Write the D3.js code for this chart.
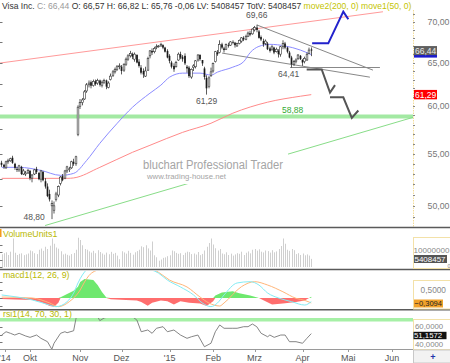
<!DOCTYPE html>
<html><head><meta charset="utf-8">
<script src="https://cdn.jsdelivr.net/npm/d3@7"></script>
<style>body{margin:0;background:#fff}svg{display:block}text{font-family:"Liberation Sans",Arial,sans-serif}</style>
</head><body><svg id="c" width="450" height="363"></svg>
<script>
// ---------- categories ----------
const startDate = "2014-09-12", endDate = "2015-04-08";
const holidays = ["2014-11-27","2014-12-25","2015-01-01","2015-01-19","2015-02-16","2015-04-03"];
const dates = (() => { const out = []; const fmt = d3.utcFormat("%Y-%m-%d");
  for (let d = new Date(startDate + "T00:00:00Z"); fmt(d) <= endDate; d = new Date(d.getTime() + 864e5)) {
    const wd = d.getUTCDay(); if (wd === 0 || wd === 6 || holidays.includes(fmt(d))) continue; out.push(fmt(d)); }
  return out; })();

// ---------- OHLC (split adjusted) ----------
const opens = [54.1,53.9,53.6,54.2,54.3,54.6,54.0,53.5,53.4,53.7,53.0,53.0,53.1,
53.3,52.6,53.0,53.5,53.1,52.5,53.2,52.3,51.8,51.1,50.0,49.6,50.6,51.0,52.1,52.8,52.6,53.3,53.5,53.6,54.2,54.0,57.0,
60.0,60.4,60.8,61.7,62.4,62.7,62.3,62.8,62.6,62.9,62.3,62.7,62.9,62.1,63.0,63.5,63.9,64.2,64.5,
64.5,64.1,64.8,65.4,65.8,66.0,65.4,65.9,65.1,64.4,64.0,63.4,64.1,65.8,66.4,66.3,66.8,66.9,67.0,67.1,66.8,66.4,
65.8,65.0,64.6,64.5,65.3,66.0,65.7,65.8,64.5,64.4,63.3,64.4,64.5,65.3,65.9,65.3,64.3,63.2,62.2,63.5,
64.0,65.1,66.2,66.2,67.2,66.7,66.6,67.1,67.1,67.5,67.4,67.0,67.3,67.6,68.0,67.8,68.2,68.6,68.5,
69.0,69.3,68.8,68.1,67.6,67.3,67.3,66.7,66.6,66.8,66.3,66.4,66.0,66.9,67.3,66.8,66.2,65.6,64.8,65.1,65.5,65.8,
65.3,65.1,65.3,66.1,66.57];
const highs = [54.3,54.0,54.3,54.5,54.6,54.8,54.1,53.7,53.9,53.8,53.5,53.3,53.5,
53.4,53.0,53.5,53.7,53.2,53.4,53.3,52.6,52.1,51.5,50.5,50.4,51.3,51.9,52.8,53.0,53.4,53.8,53.7,54.3,54.5,54.8,60.1,
60.8,60.9,61.8,62.6,62.9,62.9,63.0,63.0,63.1,63.0,62.9,63.1,63.0,62.8,63.7,64.1,64.4,64.7,64.9,
64.7,64.9,65.6,66.0,66.4,66.2,66.2,66.0,65.4,64.7,64.3,64.5,65.7,66.5,66.7,66.9,67.2,67.1,67.4,67.2,66.9,66.6,
66.0,65.2,64.9,65.2,66.2,66.3,65.9,66.1,64.7,64.6,64.3,64.8,65.3,66.0,66.0,65.3,64.5,63.5,63.4,64.4,
65.0,66.4,66.5,67.7,67.4,66.9,67.3,67.4,67.6,67.7,67.5,67.4,67.8,68.1,68.2,68.4,68.8,68.9,69.2,
69.5,69.66,69.0,68.3,67.9,67.8,67.5,66.9,67.1,66.9,66.8,66.6,67.0,67.7,67.5,66.9,66.4,65.8,65.3,65.5,66.0,65.9,
65.4,65.7,66.2,66.8,66.82];
const lows = [53.7,53.5,53.5,54.0,54.2,54.0,53.4,53.2,53.2,52.9,52.9,52.8,53.0,
52.4,52.2,52.9,53.0,52.4,52.2,52.3,51.6,50.8,50.4,48.8,49.3,50.4,50.8,51.9,52.3,52.5,53.1,53.2,53.5,53.8,53.8,56.8,
59.7,60.1,60.7,61.5,62.1,62.0,62.2,62.3,62.4,62.2,62.1,62.5,61.9,62.0,62.9,63.3,63.7,64.0,64.2,
63.6,63.9,64.6,65.2,65.6,65.4,65.1,64.9,64.4,63.6,63.2,63.3,64.0,65.5,65.9,66.1,66.6,66.8,66.9,66.6,66.2,65.5,
64.9,64.3,63.9,64.4,65.2,65.4,65.1,64.7,63.8,63.2,63.1,64.0,64.3,65.1,65.2,64.6,63.0,61.29,62.0,63.3,
63.8,65.0,65.8,66.1,66.6,66.2,66.5,66.8,67.0,67.2,66.8,66.9,67.2,67.4,67.6,67.7,68.1,68.2,68.4,
68.8,68.7,67.9,67.6,66.9,67.1,66.5,66.2,66.4,66.0,66.2,65.6,65.7,66.6,66.6,66.1,65.5,64.41,64.6,64.9,65.3,65.3,
64.6,64.9,65.2,66.0,65.76];
const closes = [53.9,53.7,54.2,54.3,54.5,54.1,53.6,53.4,53.8,53.0,53.3,53.1,53.35,
52.6,52.9,53.4,53.2,52.5,53.3,52.4,51.8,50.9,50.6,50.2,50.0,51.1,51.8,52.7,52.4,53.3,53.7,53.5,54.2,54.0,54.7,59.9,
60.4,60.7,61.6,62.4,62.6,62.3,62.8,62.5,62.9,62.4,62.7,62.9,62.2,62.6,63.4,63.9,64.2,64.5,64.6,
64.0,64.8,65.4,65.8,66.1,65.7,66.0,65.0,64.6,63.8,63.6,64.0,65.5,66.4,66.2,66.7,66.9,67.0,67.2,66.8,66.3,65.6,
65.2,64.5,64.2,65.0,66.0,65.6,65.4,64.9,64.3,63.4,64.2,64.6,65.2,65.9,65.4,64.9,63.3,62.0,63.2,63.9,
64.9,66.3,66.0,67.2,66.8,66.5,67.2,67.0,67.5,67.4,67.1,67.3,67.7,68.0,67.8,68.2,68.6,68.4,69.1,
69.3,69.0,68.0,67.8,67.2,67.6,66.6,66.4,66.9,66.2,66.6,66.0,66.9,67.3,66.8,66.3,65.6,64.8,65.1,65.3,65.9,65.4,
65.0,65.5,66.0,66.5,66.44];
// volume, millions
const volumes = [8.5,9.2,9.8,8.0,10.2,19.0,9.5,8.0,8.8,9.1,7.9,8.4,9.0,
11.0,10.5,9.2,8.6,11.5,12.3,10.8,13.5,12.0,14.2,19.0,15.5,13.0,12.2,10.5,8.4,8.9,8.1,7.6,8.6,9.3,11.5,19.5,
18.0,14.5,12.0,11.5,10.4,9.6,10.8,9.2,11.2,10.0,9.0,8.2,9.6,8.5,10.1,8.8,9.4,7.6,5.2,
10.5,9.7,8.9,10.8,9.4,8.2,9.8,10.6,11.5,13.8,13.2,14.5,12.4,11.0,17.0,7.8,6.5,4.2,5.0,6.1,6.4,7.2,
7.8,11.0,10.5,9.4,8.8,9.2,8.0,9.5,10.2,9.9,8.6,9.0,8.3,10.0,7.9,8.7,11.0,13.5,16.0,19.0,
15.0,12.5,11.0,12.0,9.0,8.5,9.8,8.0,8.9,7.6,8.4,9.2,8.8,10.2,8.0,9.5,10.4,9.1,11.5,
12.0,10.9,11.8,10.2,9.7,11.0,10.6,9.6,11.2,9.8,10.4,12.0,14.0,19.0,15.5,11.5,10.8,12.0,11.2,8.6,9.2,
8.0,9.0,7.8,8.4,7.6,5.408457];

// ---------- moving averages (read at sample days) ----------
const ma50Pos = [0,8,18,27,33,39,45,53,60,68,73,77,83,91,96,99,106,111,114,118,123,130,137,142];
const ma50    = [53.65,53.65,53.35,52.87,53.06,54.34,56.06,58.16,59.89,61.45,62.36,63.28,63.75,63.75,63.52,63.87,64.45,65.1,66.2,66.95,67.2,67.0,66.5,65.95];
const ma200Pos = [0,14,30,33,45,60,68,83,96,106,122,137,142];
const ma200    = [52.58,52.58,52.58,52.62,53.65,55.15,55.86,57.2,58.16,59.24,60.45,61.11,61.29];

// ---------- MACD (12,26,9) ----------
const macdPos  = [0,7,14,22,25,30,33,35,37,41,46,55,65,72,76,82,88,92,96,99,102,108,114,118,122,127,133,139,142];
const macdLine = [0.19,0.06,-0.12,-0.44,-0.54,-0.23,0.31,0.94,1.44,2.0,2.3,2.2,1.9,1.55,1.12,0.69,0.19,-0.31,-0.54,-0.31,0.19,0.94,1.02,0.81,0.31,0.0,-0.23,-0.44,-0.23];
const signalPos  = [0,14,22,26,31,36,38,40,45,55,65,72,77,85,91,95,100,102,110,116,122,129,135,139,142];
const signalLine = [0.06,0.0,-0.31,-0.54,-0.23,0.5,1.0,1.4,1.8,2.1,2.0,1.6,1.12,0.69,0.06,-0.31,-0.5,-0.31,0.71,1.02,0.81,0.39,-0.02,-0.15,-0.3094];
const histPos  = [0,6,14,18,22,24,26,27,30,33,35,36,38,42,44,46,48,50,57,62,64,67,69,73,76,79,82,86,91,94,97,98,101,106,109,114,118,121,124,129,135,139,141,142];
const histVals = [-0.06,-0.1,-0.12,-0.25,-0.5,-0.54,-0.3,0.05,0.25,0.45,0.7,1.0,1.19,1.12,0.81,0.38,0.03,-0.08,-0.12,-0.15,-0.25,-0.48,-0.3,-0.15,-0.2,-0.4,-0.2,-0.3,-0.35,-0.5,-0.2,0.15,0.35,0.42,0.3,0.15,0.0,-0.2,-0.4,-0.35,-0.25,-0.15,0.0,0.08];

// ---------- RSI (14) ----------
const rsiPos  = [0,2,4,6,8,11,13,16,18,21,23,24,27,29,30,33,34,35,38,43,45,47,52,57,62,64,67,69,71,74,76,79,82,85,87,90,93,96,98,100,102,106,108,111,113,115,117,119,122,123,125,128,130,132,135,138,140,142];
const rsiVals = [49.3,53.7,51.6,49.3,51.6,48,46.2,49.3,44.9,40.4,30.3,38.3,51.6,53.7,52.4,55,70.2,82,84,79,68.5,72,76,80,69.3,53.7,56,51.6,58.3,60.4,53.7,56,49.3,44.9,47,49.3,33.7,38.3,53.7,62.7,58.3,58.3,58.3,60.4,60.4,64,60.4,51.6,47,49.3,46.2,49.3,49.3,40.4,40.4,38.3,44.9,51.1572];

// ---------- axes / labels ----------
const monthLabels = ["'14","Okt","Nov","Dez","'15","Feb","Mrz","Apr","Mai","Jun"];
const monthPos    = [1.5,13,36,55,77,97,116,138,159,179];
const priceTicks  = [50,55,60,65,70];
const minorPriceTicks = [49,50,51,52,53,54,55,56,57,58,59,60,61,62,63,64,65,66,67,68,69,70,71];
const leftPriceTicks = [50,52.5,55,57.5,60,62.5,65,67.5,70];
const rsiTicks = [40,60];
const volumeTickLabel = 10000000;
const macdTickLabel = 0.5;
const supportLevel = 58.88;
const extremeLabels = [ {pos:117,val:69.66,where:"above",dx:0}, {pos:23,val:48.80,where:"left",dx:-7},
                        {pos:94,val:61.29,where:"below",dx:0}, {pos:133,val:64.41,where:"below",dx:-3} ];
// drawn tools (trading-day position, price)
const resistLine = [[-1,64.93],[174.9,71.33]];
const fallLine   = [[117.1,69.62],[170.3,64.1]];
const lowerLine  = [[101.1,66.13],[168.9,63.28]];
const flatLine   = [[132.3,64.41],[173.5,64.41]];
const supportTrend = [[19.9,48.23],[188.7,58.79]];
const projUp     = [[142.4,67.32],[149.8,67.32],[156.7,71.35],[159,70.35]];
const projDown1  = [[139.9,64.18],[146.8,64.18],[150.6,61.53],[152.9,62.36]];
const projDown2  = [[150.6,60.99],[156.7,60.99],[160.6,58.74],[163.6,59.53]];
const titleParts = [["Visa Inc. ","#333"],["C: 66,44 ","#9a9a9a"],["O: 66,57 H: 66,82 L: 65,76 -0,06 LV: 5408457 TotV: 5408457 ","#333"],["move2(200, 0) ","#c4c400"],["move1(50, 0)","#c4c400"]];

// ---------- scales ----------
const svg = d3.select("#c");
const R = 413;
const x = d3.scaleLinear().domain([0,142]).range([1.7, 1.7+142*2.18]);
const y = d3.scaleLog().domain([48.1,71.56]).range([227,10]);
const vy = d3.scaleLinear().domain([0,10]).range([267,252]);
const my = d3.scaleLinear().domain([-1,1]).range([314,282]);
const ry = d3.scaleLinear().domain([30,70]).range([349.5,319.5]);
const fmt2 = v => d3.format(".2f")(v).replace(".",",");
const fmt4 = v => d3.format(".4f")(v).replace(".",",");

const defs = svg.append("defs");
function clip(id,x0,y0,w,h){ defs.append("clipPath").attr("id",id).append("rect").attr("x",x0).attr("y",y0).attr("width",w).attr("height",h); }
clip("cMain",0,10,R,217); clip("cVol",0,229,R,39); clip("cMacd",0,271,R,38); clip("cRsi",0,318,R,31.5);

const main = svg.append("g").attr("clip-path","url(#cMain)");
const line = d3.line().x(d=>x(d[0])).y(d=>y(d[1]));

main.append("line").attr("x1",0).attr("x2",R).attr("y1",y(supportLevel)).attr("y2",y(supportLevel)).attr("stroke","#a3e9a3").attr("stroke-width",4);
svg.selectAll(".lt").data(leftPriceTicks).join("line").attr("x1",0).attr("x2",2.5).attr("y1",d=>Math.round(y(d))+0.5).attr("y2",d=>Math.round(y(d))+0.5).attr("stroke","#777");
main.append("path").attr("d",line(resistLine)).attr("stroke","#ff9a9a").attr("fill","none");
main.append("path").attr("d",line(supportTrend)).attr("stroke","#88dd88").attr("fill","none");
main.append("path").attr("d",line(fallLine)).attr("stroke","#888").attr("fill","none");
main.append("path").attr("d",line(lowerLine)).attr("stroke","#888").attr("fill","none");
main.append("path").attr("d",line(flatLine)).attr("stroke","#888").attr("fill","none");
main.append("path").attr("d",d3.line().x((d,i)=>x(ma200Pos[i])).y(d=>y(d)).curve(d3.curveMonotoneX)(ma200)).attr("stroke","#ff8a8a").attr("fill","none");
main.append("path").attr("d",d3.line().x((d,i)=>x(ma50Pos[i])).y(d=>y(d)).curve(d3.curveMonotoneX)(ma50)).attr("stroke","#8c8cff").attr("fill","none");
main.append("rect").attr("x",140).attr("y",152).attr("width",148).attr("height",32).attr("fill","#fff");
main.append("text").attr("x",143).attr("y",168.5).attr("font-size",12.5).attr("fill","#a5a5a5").attr("textLength",140).attr("lengthAdjust","spacingAndGlyphs").text("bluchart Professional Trader");
main.append("text").attr("x",147).attr("y",178.5).attr("font-size",8).attr("fill","#a5a5a5").attr("textLength",79).attr("lengthAdjust","spacingAndGlyphs").text("www.trading-house.net");
const cg = main.append("g");
closes.forEach((c,i)=>{
  const cx = Math.round(x(i)*2)/2;
  cg.append("line").attr("x1",cx).attr("x2",cx).attr("y1",y(highs[i])).attr("y2",y(lows[i])).attr("stroke","#333").attr("stroke-width",0.8);
  const top = y(Math.max(opens[i],c)), bot = y(Math.min(opens[i],c));
  const up = c>=opens[i];
  cg.append("rect").attr("x",cx-0.85).attr("y",top).attr("width",1.7).attr("height",Math.max(0.8,bot-top))
    .attr("fill",up?"#fff":"#1a1a1a").attr("stroke",up?"#333":"none").attr("stroke-width",0.6);
});
main.append("path").attr("d",line(projUp)).attr("stroke","#2222cc").attr("stroke-width",2).attr("fill","none");
main.append("path").attr("d",line(projDown1)).attr("stroke","#555").attr("stroke-width",2).attr("fill","none");
main.append("path").attr("d",line(projDown2)).attr("stroke","#555").attr("stroke-width",2).attr("fill","none");
extremeLabels.forEach(e=>{
  let tx = x(e.pos)+e.dx, ty, anchor="middle";
  if(e.where==="above"){ ty = y(e.val)-7; }
  else if(e.where==="below"){ ty = y(e.val)+9; }
  else { anchor="end"; ty = y(e.val)+1; }
  svg.append("text").attr("x",tx).attr("y",ty).attr("text-anchor",anchor).attr("font-size",8.5).attr("fill","#555").text(fmt2(e.val));
});
svg.append("text").attr("x",282).attr("y",y(supportLevel)-3.5).attr("font-size",8.5).attr("fill","#33aa33").text(fmt2(supportLevel));

// ---------- right price axis ----------
svg.append("line").attr("x1",413.5).attr("x2",413.5).attr("y1",10).attr("y2",227).attr("stroke","#f2dc98").attr("stroke-dasharray","1.5,1");
svg.selectAll(".rt").data(minorPriceTicks).join("line").attr("x1",413).attr("x2",415).attr("y1",d=>Math.round(y(d))+0.5).attr("y2",d=>Math.round(y(d))+0.5).attr("stroke","#888");
svg.selectAll(".pl").data(priceTicks).join("text").attr("x",427.5).attr("y",d=>y(d)+3).attr("font-size",8.8).attr("fill","#777").text(d=>fmt2(d));
const lastMa50 = ma50[ma50.length-1], lastMa200 = ma200[ma200.length-1], lastClose = closes[closes.length-1];
svg.append("rect").attr("x",414).attr("y",y(lastMa50)-3).attr("width",23).attr("height",6).attr("fill","#1c1ccc");
svg.append("rect").attr("x",414).attr("y",y(lastClose)-4.5).attr("width",23).attr("height",9).attr("fill","#606060");
svg.append("text").attr("x",415).attr("y",y(lastClose)+3.2).attr("font-size",8.5).attr("fill","#e8e8e8").text(fmt2(lastClose));
svg.append("rect").attr("x",414).attr("y",y(lastMa200)-4.7).attr("width",23).attr("height",9.4).attr("fill","#ff0000");
svg.append("text").attr("x",415).attr("y",y(lastMa200)+3.2).attr("font-size",8.5).attr("fill","#fff").text(fmt2(lastMa200));

// ---------- title ----------
const title = svg.append("text").attr("x",2).attr("y",8.5).attr("font-size",8.5);
titleParts.forEach(p=>title.append("tspan").attr("fill",p[1]).text(p[0]));
const tw = title.node().getComputedTextLength();
title.attr("font-size", 8.5*410/tw);

// ---------- separators ----------
[[227.5,1.4],[269.5,1.6],[309.8,1.4]].forEach(s=>svg.append("line").attr("x1",0).attr("x2",450).attr("y1",s[0]).attr("y2",s[0]).attr("stroke","#5a5a5a").attr("stroke-width",s[1]));

// ---------- volume ----------
const vg = svg.append("g").attr("clip-path","url(#cVol)");
vg.selectAll("line").data(volumes).join("line").attr("x1",(d,i)=>Math.round(x(i))+0.5).attr("x2",(d,i)=>Math.round(x(i))+0.5)
  .attr("y1",vy(0)).attr("y2",d=>vy(d)).attr("stroke","#cfcfcf").attr("stroke-width",1);
svg.append("rect").attr("x",0).attr("y",229).attr("width",1.5).attr("height",8).attr("fill","#f39a1e");
svg.append("text").attr("x",3).attr("y",236.5).attr("font-size",8.8).attr("fill","#b8b800").text("VolumeUnits1");
svg.append("rect").attr("x",413.5).attr("y",237.5).attr("width",40).attr("height",31).attr("fill","#fff").attr("stroke","#f3e1a8");
svg.append("text").attr("x",413.5).attr("y",252.5).attr("font-size",7.6).attr("fill","#888").attr("textLength",36).attr("lengthAdjust","spacingAndGlyphs").text(String(volumeTickLabel));
svg.append("rect").attr("x",414).attr("y",255).attr("width",33).attr("height",8).attr("fill","#555");
svg.append("text").attr("x",414.5).attr("y",261.8).attr("font-size",7.6).attr("fill","#fff").attr("textLength",31).attr("lengthAdjust","spacingAndGlyphs").text(String(Math.round(volumes[volumes.length-1]*1e6)));
svg.append("text").attr("x",447.5).attr("y",268).attr("font-size",5.5).attr("fill","#888").text("0");
[0,5,10,15].forEach(v=>svg.append("line").attr("x1",0).attr("x2",2.5).attr("y1",Math.round(vy(v))+0.5).attr("y2",Math.round(vy(v))+0.5).attr("stroke","#777"));

// ---------- MACD ----------
const mg = svg.append("g").attr("clip-path","url(#cMacd)");
const hist = histVals.map((v,i)=>[histPos[i],v]);
mg.append("path").attr("d",d3.area().x(d=>x(d[0])).y0(my(0)).y1(d=>my(Math.max(0,d[1])))(hist)).attr("fill","#6ee86e");
mg.append("path").attr("d",d3.area().x(d=>x(d[0])).y0(my(0)).y1(d=>my(Math.min(0,d[1])))(hist)).attr("fill","#ff6e6e");
mg.append("path").attr("d",d3.line().x((d,i)=>x(signalPos[i])).y(d=>my(d)).curve(d3.curveMonotoneX)(signalLine)).attr("stroke","#ffb679").attr("fill","none");
mg.append("path").attr("d",d3.line().x((d,i)=>x(macdPos[i])).y(d=>my(d)).curve(d3.curveMonotoneX)(macdLine)).attr("stroke","#84ecf4").attr("fill","none");
svg.append("text").attr("x",3).attr("y",278).attr("font-size",8.8).attr("fill","#b8b800").text("macd1(12, 26, 9)");
svg.append("rect").attr("x",413.5).attr("y",280.5).attr("width",40).attr("height",28.5).attr("fill","#fff").attr("stroke","#f3e1a8");
svg.append("text").attr("x",446).attr("y",292.5).attr("text-anchor","end").attr("font-size",8.3).attr("fill","#888").text(fmt4(macdTickLabel));
svg.append("rect").attr("x",414).attr("y",299.5).attr("width",29).attr("height",8).attr("fill","#f2a22a");
svg.append("text").attr("x",414.5).attr("y",306.3).attr("font-size",8).attr("fill","#222").attr("textLength",27.5).attr("lengthAdjust","spacingAndGlyphs").text(fmt4(signalLine[signalLine.length-1]));
[-0.5,0,0.5,1].forEach(v=>svg.append("line").attr("x1",0).attr("x2",2.5).attr("y1",Math.round(my(v))+0.5).attr("y2",Math.round(my(v))+0.5).attr("stroke","#777"));

// ---------- RSI ----------
const rg = svg.append("g").attr("clip-path","url(#cRsi)");
svg.append("text").attr("x",3).attr("y",317).attr("font-size",8.8).attr("fill","#b8b800").text("rsi1(14, 70, 30, 1)");
rg.append("line").attr("x1",0).attr("x2",R).attr("y1",ry(70)).attr("y2",ry(70)).attr("stroke","#a6f0a6").attr("stroke-width",4);
rg.append("path").attr("d",d3.line().x((d,i)=>x(rsiPos[i])).y(d=>ry(d))(rsiVals)).attr("stroke","#777").attr("fill","none").attr("stroke-width",0.9);
svg.append("rect").attr("x",413.5).attr("y",319.5).attr("width",40).attr("height",30).attr("fill","#fff").attr("stroke","#f3e1a8");
svg.append("text").attr("x",415).attr("y",329).attr("font-size",7.8).attr("fill","#888").text(fmt4(rsiTicks[1]));
svg.append("rect").attr("x",413.5).attr("y",331.8).attr("width",33).attr("height",7.4).attr("fill","#111");
svg.append("text").attr("x",414).attr("y",338.3).attr("font-size",7.8).attr("fill","#fff").text(fmt4(rsiVals[rsiVals.length-1]));
svg.append("text").attr("x",415).attr("y",347).attr("font-size",7.8).attr("fill","#888").text(fmt4(rsiTicks[0]));
[40,50,60].forEach(v=>svg.append("line").attr("x1",0).attr("x2",2.5).attr("y1",Math.round(ry(v))+0.5).attr("y2",Math.round(ry(v))+0.5).attr("stroke","#777"));

// ---------- bottom time axis ----------
svg.append("line").attr("x1",0).attr("x2",R).attr("y1",349.5).attr("y2",349.5).attr("stroke","#9a9a9a");
svg.selectAll(".mt").data(monthPos).join("line").attr("x1",d=>Math.round(x(d))+0.5).attr("x2",d=>Math.round(x(d))+0.5).attr("y1",349.5).attr("y2",352).attr("stroke","#999");
svg.selectAll(".ml").data(monthLabels).join("text").attr("x",(d,i)=>x(monthPos[i])).attr("y",361).attr("text-anchor","middle").attr("font-size",9).attr("fill","#555").text(d=>d);
svg.append("rect").attr("x",413.5).attr("y",350).attr("width",37).attr("height",13).attr("fill","#f2f2f2").attr("stroke","#c8c8c8");
svg.append("text").attr("x",433).attr("y",360).attr("text-anchor","middle").attr("font-size",9).attr("font-weight","bold").attr("fill","#2233aa").text("+");
</script></body></html>
